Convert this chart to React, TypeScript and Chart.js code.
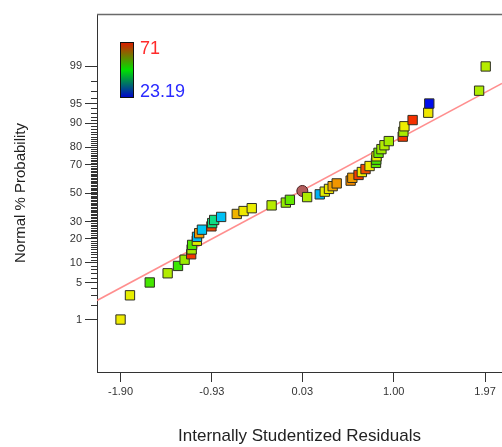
import React, { useEffect, useRef } from "react";
import { Chart, registerables } from "chart.js";

Chart.register(...registerables);

// ---- data (sorted residuals, rank percentiles, response value for colour) ----
const residuals = [
  -1.9, -1.8, -1.59, -1.4, -1.29, -1.22, -1.15, -1.145, -1.14, -1.09,
  -1.088, -1.065, -1.036, -0.935, -0.927, -0.906, -0.832, -0.666, -0.594, -0.507,
  -0.296, -0.145, -0.102, 0.081, 0.215, 0.268, 0.313, 0.352, 0.395, 0.543,
  0.561, 0.627, 0.662, 0.701, 0.744, 0.812, 0.815, 0.818, 0.839, 0.87,
  0.902, 0.948, 1.096, 1.103, 1.114, 1.201, 1.367, 1.378, 1.907, 1.977,
];
const probabilities = [
  1, 3, 5, 7, 9, 11, 13, 15, 17, 19,
  21, 23, 25, 27, 29, 31, 33, 35, 37, 39,
  41, 43, 45, 47, 49, 51, 53, 55, 57, 59,
  61, 63, 65, 67, 69, 71, 73, 75, 77, 79,
  81, 83, 85, 87, 89, 91, 93, 95, 97, 99,
];
const responseValues = [
  59.2, 58.6, 49.3, 55.6, 48.7, 54.2, 69.8, 54.9, 50.1, 58.2,
  33.5, 64.1, 34.2, 69.1, 41.0, 40.6, 33.9, 62.5, 59.4, 58.8,
  55.9, 53.8, 51.0, 55.3, 33.0, 58.5, 59.6, 63.5, 64.2, 65.0,
  63.8, 69.5, 59.0, 68.5, 59.3, 50.4, 49.5, 58.4, 51.5, 54.5,
  55.6, 54.8, 69.9, 55.0, 59.1, 70.2, 59.5, 23.9, 55.4, 55.8,
];
const highlightResidual = [0.03];
const highlightProbability = [51.5];
const refLineResidual = [-2.15, 2.15];
const refLineProbability = [2.41, 97.8];

const xTicks = [-1.9, -0.93, 0.03, 1.0, 1.97];
const xRange = [-2.15, 2.15];
const yMajorTicks = [1, 5, 10, 20, 30, 50, 70, 80, 90, 95, 99];
const yRangePct = [0.05, 99.95];
const colorMin = 23.19;
const colorMax = 71;
const colorMinLabel = "23.19";
const colorMaxLabel = "71";

const FONT = "'Liberation Sans', Arial, Helvetica, sans-serif";

// inverse normal CDF (Acklam)
function probit(p: number): number {
  const a = [-3.969683028665376e1, 2.209460984245205e2, -2.759285104469687e2, 1.38357751867269e2, -3.066479806614716e1, 2.506628277459239];
  const b = [-5.447609879822406e1, 1.615858368580409e2, -1.556989798598866e2, 6.680131188771972e1, -1.328068155288572e1];
  const c = [-7.784894002430293e-3, -3.223964580411365e-1, -2.400758277161838, -2.549732539343734, 4.374664141464968, 2.938163982698783];
  const d = [7.784695709041462e-3, 3.224671290700398e-1, 2.445134137142996, 3.754408661907416];
  const plow = 0.02425;
  if (p < plow) {
    const q = Math.sqrt(-2 * Math.log(p));
    return (((((c[0] * q + c[1]) * q + c[2]) * q + c[3]) * q + c[4]) * q + c[5]) / ((((d[0] * q + d[1]) * q + d[2]) * q + d[3]) * q + 1);
  }
  if (p <= 1 - plow) {
    const q = p - 0.5;
    const r = q * q;
    return ((((((a[0] * r + a[1]) * r + a[2]) * r + a[3]) * r + a[4]) * r + a[5]) * q) / (((((b[0] * r + b[1]) * r + b[2]) * r + b[3]) * r + b[4]) * r + 1);
  }
  const q = Math.sqrt(-2 * Math.log(1 - p));
  return -(((((c[0] * q + c[1]) * q + c[2]) * q + c[3]) * q + c[4]) * q + c[5]) / ((((d[0] * q + d[1]) * q + d[2]) * q + d[3]) * q + 1);
}
const pz = (pct: number) => probit(pct / 100);

// rainbow blue -> cyan -> green -> yellow -> red
const stops: [number, number[]][] = [
  [0, [0, 0, 235]],
  [0.25, [0, 215, 245]],
  [0.5, [30, 230, 0]],
  [0.75, [238, 238, 0]],
  [1, [245, 35, 0]],
];
function rainbow(v: number): string {
  let t = (v - colorMin) / (colorMax - colorMin);
  t = Math.max(0, Math.min(1, t));
  for (let i = 0; i < stops.length - 1; i++) {
    const [t0, c0] = stops[i];
    const [t1, c1] = stops[i + 1];
    if (t <= t1) {
      const f = (t - t0) / (t1 - t0);
      const c = c0.map((x, k) => Math.round(x + (c1[k] - x) * f));
      return `rgb(${c[0]},${c[1]},${c[2]})`;
    }
  }
  return "rgb(245,35,0)";
}

const minorTicks: number[] = [];
for (let p = 1; p <= 99; p++) if (!yMajorTicks.includes(p)) minorTicks.push(p);

const decorPlugin = {
  id: "decor",
  afterDraw(chart: any) {
    const { ctx, chartArea } = chart;
    const ys = chart.scales.y;
    ctx.save();
    // minor ticks
    ctx.strokeStyle = "#333";
    ctx.lineWidth = 1;
    ctx.beginPath();
    for (const p of minorTicks) {
      const y = Math.round(ys.getPixelForValue(pz(p))) + 0.5;
      ctx.moveTo(chartArea.left - 6, y);
      ctx.lineTo(chartArea.left, y);
    }
    ctx.stroke();
    // top border
    ctx.strokeStyle = "#6a6a6a";
    ctx.lineWidth = 1.5;
    ctx.beginPath();
    ctx.moveTo(chartArea.left, chartArea.top + 0.5);
    ctx.lineTo(chartArea.right, chartArea.top + 0.5);
    ctx.stroke();
    // colour legend
    const lx = chartArea.left + 23;
    const ly = chartArea.top + 28;
    const lw = 14;
    const lh = 56;
    const g = ctx.createLinearGradient(0, ly, 0, ly + lh);
    g.addColorStop(0, "#e01800");
    g.addColorStop(0.5, "#00e000");
    g.addColorStop(1, "#0000d0");
    ctx.fillStyle = g;
    ctx.fillRect(lx, ly, lw, lh);
    ctx.strokeStyle = "#111";
    ctx.lineWidth = 1;
    ctx.strokeRect(lx + 0.5, ly + 0.5, lw - 1, lh - 1);
    ctx.font = `18px ${FONT}`;
    ctx.textBaseline = "middle";
    ctx.textAlign = "left";
    ctx.fillStyle = "#ff2a2a";
    ctx.fillText(colorMaxLabel, lx + 20, ly + 7);
    ctx.fillStyle = "#2a2aff";
    ctx.fillText(colorMinLabel, lx + 20, ly + 50);
    ctx.restore();
  },
};

export default function App() {
  const ref = useRef<HTMLCanvasElement | null>(null);
  useEffect(() => {
    if (!ref.current) return;
    const squares = residuals.map((x, i) => ({ x, y: pz(probabilities[i]) }));
    const circle = highlightResidual.map((x, i) => ({ x, y: pz(highlightProbability[i]) }));
    const line = refLineResidual.map((x, i) => ({ x, y: pz(refLineProbability[i]) }));
    const chart = new Chart(ref.current, {
      type: "scatter",
      data: {
        datasets: [
          {
            data: squares,
            pointStyle: "rect",
            pointRadius: 6.6,
            pointBackgroundColor: responseValues.map(rainbow),
            pointBorderColor: "#2e2e22",
            pointBorderWidth: 1,
          },
          {
            data: circle,
            pointStyle: "circle",
            pointRadius: 5.5,
            pointBackgroundColor: "#b35c5c",
            pointBorderColor: "#4a2020",
            pointBorderWidth: 1,
          },
          {
            data: line,
            showLine: true,
            pointRadius: 0,
            borderColor: "rgba(255,130,130,0.9)",
            borderWidth: 1.5,
          },
        ],
      },
      options: {
        animation: false,
        responsive: false,
        devicePixelRatio: 1,
        layout: { autoPadding: false, padding: { top: 14, left: 0, right: 0, bottom: 0 } },
        plugins: { legend: { display: false }, tooltip: { enabled: false } },
        scales: {
          x: {
            type: "linear",
            min: xRange[0],
            max: xRange[1],
            afterBuildTicks: (s: any) => {
              s.ticks = xTicks.map((v) => ({ value: v }));
            },
            afterFit: (s: any) => {
              s.height = 75;
              s.paddingLeft = 0;
              s.paddingRight = 0;
            },
            ticks: {
              callback: (v: any) => Number(v).toFixed(2),
              font: { family: FONT, size: 11 },
              color: "#333",
              padding: 3,
              maxRotation: 0,
              autoSkip: false,
            },
            grid: { drawOnChartArea: false, drawTicks: true, tickLength: 10, color: "#333" },
            border: { display: true, color: "#333", width: 1 },
            title: {
              display: true,
              text: "Internally Studentized Residuals",
              font: { family: FONT, size: 17 },
              color: "#222",
              padding: { top: 0, bottom: 0 },
            },
          },
          y: {
            type: "linear",
            min: pz(yRangePct[0]),
            max: pz(yRangePct[1]),
            afterBuildTicks: (s: any) => {
              s.ticks = yMajorTicks.map((p) => ({ value: pz(p) }));
            },
            afterFit: (s: any) => {
              s.width = 97;
              s.paddingTop = 0;
              s.paddingBottom = 0;
            },
            ticks: {
              callback: (_v: any, i: number) => String(yMajorTicks[i]),
              font: { family: FONT, size: 11 },
              color: "#333",
              padding: 3,
              autoSkip: false,
            },
            grid: { drawOnChartArea: false, drawTicks: true, tickLength: 12, color: "#333" },
            border: { display: true, color: "#333", width: 1 },
            title: {
              display: true,
              text: "Normal % Probability",
              font: { family: FONT, size: 15 },
              color: "#222",
              padding: { top: 12, bottom: 0 },
            },
          },
        },
      },
      plugins: [decorPlugin],
    });
    return () => chart.destroy();
  }, []);
  return (
    <div style={{ position: "fixed", left: 0, top: 0, width: 502, height: 447, background: "#fff" }}>
      <canvas ref={ref} width={502} height={447} style={{ display: "block" }} />
    </div>
  );
}
